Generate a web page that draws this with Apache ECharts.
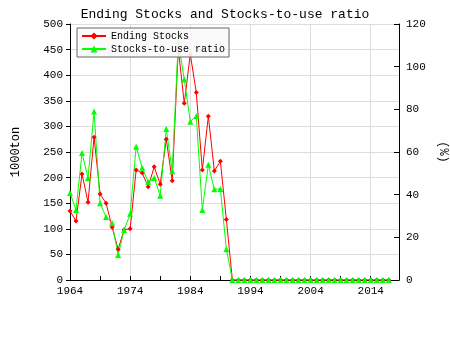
<!DOCTYPE html>
<html>
<head>
<meta charset="utf-8">
<script src="https://cdn.jsdelivr.net/npm/echarts@6/dist/echarts.min.js"></script>
</head>
<body style="margin:0">
<div id="main" style="width:450px;height:350px;"></div>
<script type="text/javascript">

    var years = [1964,1965,1966,1967,1968,1969,1970,1971,1972,1973,
                 1974,1975,1976,1977,1978,1979,1980,1981,1982,1983,
                 1984,1985,1986,1987,1988,1989,1990,1991,1992,1993,
                 1994,1995,1996,1997,1998,1999,2000,2001,2002,2003,
                 2004,2005,2006,2007,2008,2009,2010,2011,2012,2013,
                 2014,2015,2016,2017];
    // 1000ton
    var endingStocks = [135,115,207,152,279,168,150,103,60,98,
                        100,215,209,182,221,187,275,194,452,345,
                        441,366,215,320,213,232,118,0,0,0,
                        0,0,0,0,0,0,0,0,0,0,
                        0,0,0,0,0,0,0,0,0,0,
                        0,0,0,0];
    // %
    var stocksToUse = [40.8,32.8,59.5,47.8,79,36,29.5,26.7,11.7,23.4,
                       31,62.5,52.6,46,47.8,39.5,70.8,51,111.7,94,
                       74.2,76.9,32.8,54,42.5,42.7,14.4,0,0,0,
                       0,0,0,0,0,0,0,0,0,0,
                       0,0,0,0,0,0,0,0,0,0,
                       0,0,0,0];

    var font = 'Liberation Mono';

    function pairs(vals){
        var out = [];
        years.forEach(function(y, i){
            out.push([y, vals[i]]);
        });
        return out;
    }

    var myChart = echarts.init(document.getElementById('main'));

    var option = {
        animation: false,
        backgroundColor: '#fff',
        title: {
            text: 'Ending Stocks and Stocks-to-use ratio',
            left: 'center',
            top: 3,
            textStyle: {fontFamily: font, fontSize: 13, fontWeight: 'normal', color: '#000'}
        },
        legend: {
            orient: 'vertical',
            left: 77,
            top: 28,
            padding: [3, 4, 3, 4],
            itemGap: 3,
            itemWidth: 24,
            itemHeight: 9,
            borderColor: '#666',
            borderWidth: 1,
            borderRadius: 0,
            backgroundColor: 'rgba(250,250,250,0.9)',
            textStyle: {fontFamily: font, fontSize: 10, color: '#000'},
            data: ['Ending Stocks', 'Stocks-to-use ratio']
        },
        grid: {left: 70, right: 51, top: 24, bottom: 70, containLabel: false, outerBoundsMode: 'none'},
        xAxis: {
            type: 'value',
            min: 1964,
            max: 2018.7,
            interval: 10,
            axisLine: {lineStyle: {color: '#000'}},
            axisTick: {inside: true, length: 4, lineStyle: {color: '#000'}},
            minorTick: {show: true, splitNumber: 2, length: 4, lineStyle: {color: '#000'}},
            axisLabel: {
                fontFamily: font, fontSize: 11, color: '#000', margin: 6,
                showMaxLabel: false,
                formatter: function(v){ return String(v); }
            },
            splitLine: {show: true, lineStyle: {color: '#ddd'}}
        },
        yAxis: [{
            type: 'value',
            min: 0,
            max: 500,
            interval: 50,
            name: '1000ton',
            nameLocation: 'middle',
            nameGap: 48,
            nameRotate: 90,
            nameTextStyle: {fontFamily: font, fontSize: 12, color: '#000'},
            axisLine: {show: true, lineStyle: {color: '#000'}},
            axisTick: {show: true, length: 4, lineStyle: {color: '#000'}},
            axisLabel: {fontFamily: font, fontSize: 11, color: '#000', margin: 7},
            splitLine: {show: true, lineStyle: {color: '#ddd'}}
        }, {
            type: 'value',
            min: 0,
            max: 120,
            interval: 20,
            position: 'right',
            name: '(%)',
            nameLocation: 'middle',
            nameGap: 38,
            nameRotate: -90,
            nameTextStyle: {fontFamily: font, fontSize: 12, color: '#000'},
            axisLine: {show: true, lineStyle: {color: '#000'}},
            axisTick: {show: true, inside: true, length: 5, lineStyle: {color: '#000'}},
            axisLabel: {fontFamily: font, fontSize: 11, color: '#000', margin: 7},
            splitLine: {show: false}
        }],
        series: [{
            name: 'Ending Stocks',
            type: 'line',
            yAxisIndex: 0,
            data: pairs(endingStocks),
            symbol: 'diamond',
            symbolSize: 5,
            itemStyle: {color: '#ff0000'},
            lineStyle: {color: '#ff0000', width: 1}
        }, {
            name: 'Stocks-to-use ratio',
            type: 'line',
            yAxisIndex: 1,
            data: pairs(stocksToUse),
            symbol: 'triangle',
            symbolSize: 6,
            itemStyle: {color: '#00ff00'},
            lineStyle: {color: '#00ff00', width: 1}
        }]
    };

    myChart.setOption(option);
</script>
</body>
</html>
